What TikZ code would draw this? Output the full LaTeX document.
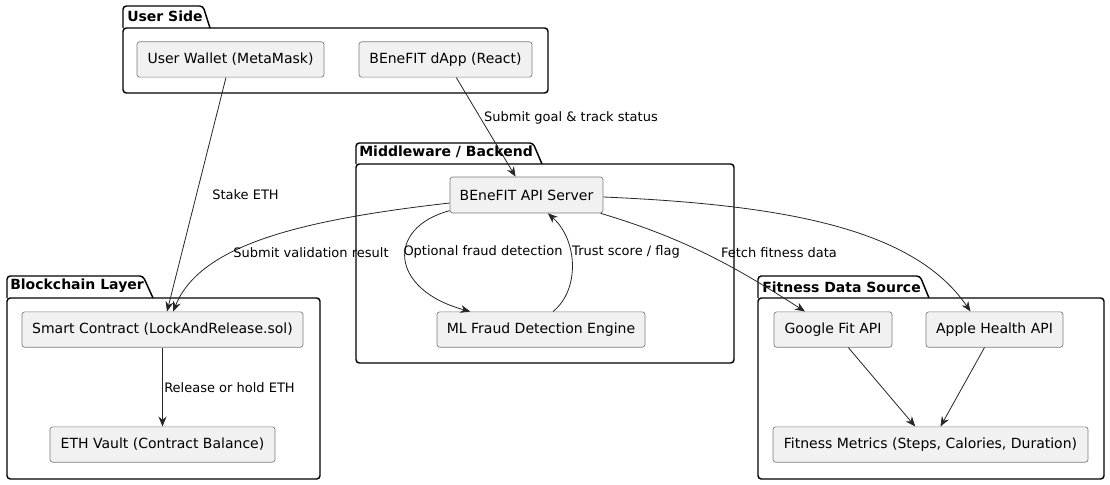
\documentclass[tikz,border=0pt]{standalone}
\usepackage{fontspec}
\setmainfont{DejaVu Sans}
\usetikzlibrary{arrows.meta}
\definecolor{boxgray}{HTML}{F1F1F1}
\definecolor{boxline}{HTML}{7A7A7A}

\begin{document}
\begin{tikzpicture}[
        x=0.75pt, y=-0.75pt,
        comp/.style={draw=boxline, fill=boxgray, rounded corners=2pt, line width=0.5pt,
            minimum height=26.5pt, inner sep=0pt, font=\fontsize{10.5}{12}\selectfont},
        pkg/.style={draw=black, line width=1.1pt, rounded corners=2.5pt},
        pkgtitle/.style={font=\bfseries\fontsize{10.5}{12}\selectfont, inner sep=0pt, anchor=west},
        elabel/.style={font=\fontsize{9.75}{11}\selectfont, inner sep=0pt},
        link/.style={draw=black!85, line width=0.6pt, -{Stealth[length=7.5pt, width=6pt, inset=2.5pt]}}
    ]
    \useasboundingbox (0,0) rectangle (1110,485);

    % User side package
    \begin{scope}
        \draw[pkg] (123,28) -- (123,6) -- (203,6) -- (210,28);
        \draw[pkg] (123,28) rectangle (548,93);
        \node[pkgtitle] (userT) at (127,16) {User Side};
        \node[comp, minimum width=140.25pt] (wallet) at (230.5,59.5) {User Wallet (MetaMask)};
        \node[comp, minimum width=129.75pt] (dapp) at (445.5,59.5) {BEneFIT dApp (React)};
    \end{scope}

    % Middleware package
    \begin{scope}
        \draw[pkg] (356,164) -- (356,143) -- (533,143) -- (542,164);
        \draw[pkg] (356,164) rectangle (734,363);
        \node[pkgtitle] (midT) at (359,152) {Middleware / Backend};
        \node[comp, minimum width=114.75pt, minimum height=27pt] (api) at (526.5,195) {BEneFIT API Server};
        \node[comp, minimum width=156pt] (ml) at (541,329.5) {ML Fraud Detection Engine};
    \end{scope}

    % Blockchain package
    \begin{scope}
        \draw[pkg] (7,298) -- (7,276) -- (143,276) -- (153,298);
        \draw[pkg] (7,298) rectangle (320,479);
        \node[pkgtitle] (chainT) at (10,286) {Blockchain Layer};
        \node[comp, minimum width=210.75pt] (contract) at (162.5,329.5) {Smart Contract (LockAndRelease.sol)};
        \node[comp, minimum width=168.75pt] (vault) at (162.5,444.5) {ETH Vault (Contract Balance)};
    \end{scope}

    % Fitness data package
    \begin{scope}
        \draw[pkg] (758,298) -- (758,276) -- (920,276) -- (929,298);
        \draw[pkg] (758,298) rectangle (1104,479);
        \node[pkgtitle] (fitT) at (762,287) {Fitness Data Source};
        \node[comp, minimum width=88.5pt] (gfit) at (833,329.5) {Google Fit API};
        \node[comp, minimum width=102.75pt] (apple) at (994.5,329.5) {Apple Health API};
        \node[comp, minimum width=236.25pt] (metrics) at (930.5,444.5) {Fitness Metrics (Steps, Calories, Duration)};
    \end{scope}

    % Connectors
    \draw[link] (wallet) -- (contract);
    \node[elabel] (stakeL) at (245.5,195) {Stake ETH};

    \draw[link] (dapp) -- (api);
    \node[elabel] (goalL) at (571,118) {Submit goal \& track status};

    \draw[link] ([yshift=-6pt]api.west) .. controls (300,220) and (200,245) .. ([xshift=8pt]contract.north);
    \node[elabel] (validL) at (311,253) {Submit validation result};

    \draw[link] ([yshift=2pt]api.south west) .. controls (385,228) and (390,290) .. ([xshift=-53pt]ml.north);
    \node[elabel] (fraudL) at (483,252) {Optional fraud detection};

    \draw[link] ([xshift=9pt]ml.north) .. controls (580,290) and (578,240) .. ([xshift=16pt]api.south);
    \node[elabel] (trustL) at (626,252) {Trust score / flag};

    \draw[link] ([xshift=-2pt]api.south east) .. controls (690,240) and (740,270) .. ([xshift=-21pt]gfit.north);
    \node[elabel] (fetchL) at (779,253) {Fetch fitness data};

    \draw[link] ([yshift=-1.5pt]api.east) .. controls (790,205) and (915,230) .. ([xshift=-18pt]apple.north);

    \draw[link] (contract) -- (vault);
    \node[elabel, anchor=west] (releaseL) at (164,388) {Release or hold ETH};

    \draw[link] (gfit) -- (metrics);
    \draw[link] (apple) -- (metrics);

\end{tikzpicture}
\end{document}
